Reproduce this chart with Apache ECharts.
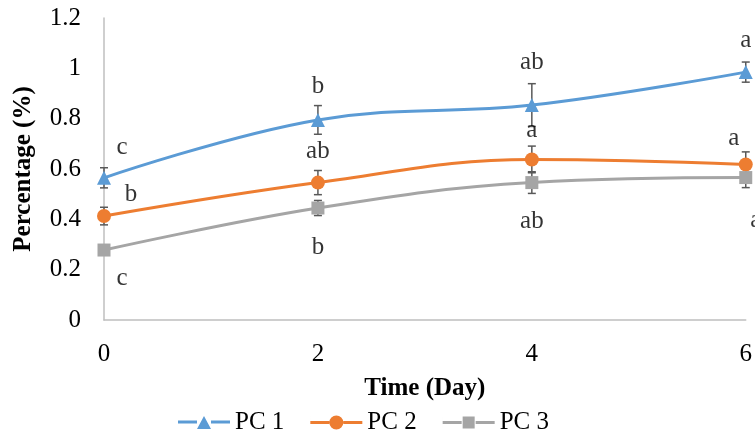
<!DOCTYPE html>
<html><head><meta charset="utf-8">
<script src="https://cdn.jsdelivr.net/npm/echarts@6/dist/echarts.min.js"></script>
<style>html,body{margin:0;padding:0;background:#fff}#c{width:755px;height:436px}</style>
</head><body><div id="c"></div>
<script>
const days = [0, 2, 4, 6];
const yTicks = [0, 0.2, 0.4, 0.6, 0.8, 1, 1.2];
const seriesNames = ['PC 1', 'PC 2', 'PC 3'];
const pc1 = [0.565, 0.795, 0.854, 0.985];
const pc2 = [0.413, 0.546, 0.638, 0.618];
const pc3 = [0.278, 0.445, 0.546, 0.566];
const pc1Err = [0.04, 0.057, 0.085, 0.04];
const pc2Err = [0.035, 0.048, 0.053, 0.05];
const pc3Err = [0.015, 0.03, 0.043, 0.04];
const pc1Letters = ['c', 'b', 'ab', 'a'];
const pc2Letters = ['b', 'ab', 'a', 'a'];
const pc3Letters = ['c', 'b', 'ab', 'a'];

// layout: label offsets (pixels) relative to each point
const pc1Off = [[18, -30], [0, -33], [0, -43], [0, -32]];
const pc2Off = [[27, -22], [0, -31], [0, -29], [-12, -26]];
const pc3Off = [[18, 28], [0, 39], [0, 39], [10, 43]];

const colors = ['#5B9BD5', '#ED7D31', '#A5A5A5'];
const symbols = ['triangle', 'circle', 'rect'];
const symSizes = [14, 14, 13];
const vals = [pc1, pc2, pc3];
const errs = [pc1Err, pc2Err, pc3Err];
const letters = [pc1Letters, pc2Letters, pc3Letters];
const offs = [pc1Off, pc2Off, pc3Off];
const FONT = '"Liberation Serif", "Times New Roman", serif';

// legend icons: thick line with marker (52 x 14 box)
const bars = 'M0 5.5 H19 V8.5 H0 Z M33 5.5 H52 V8.5 H33 Z ';
const legendIcons = [
  'path://' + bars + 'M19 14 L26 1 L33 14 Z',
  'path://' + bars + 'M19 7 A7 7 0 1 1 33 7 A7 7 0 1 1 19 7 Z M0 0 H0.01 V14 H0 Z',
  'path://' + bars + 'M20 1 H32 V13 H20 Z M0 0 H0.01 V14 H0 Z'
];

const series = [];
vals.forEach((v, i) => {
  series.push({
    name: seriesNames[i], type: 'line', smooth: 0.4,
    data: days.map((d, j) => [d, v[j]]),
    symbol: symbols[i], symbolSize: symSizes[i], showAllSymbol: true,
    lineStyle: { color: colors[i], width: 3 },
    itemStyle: { color: colors[i] }, z: 3
  });
});
vals.forEach((v, i) => {
  series.push({
    type: 'custom', z: 2, silent: true,
    data: days.map((d, j) => [d, v[j] - errs[i][j], v[j] + errs[i][j]]),
    renderItem: function (params, api) {
      const lo = api.coord([api.value(0), api.value(1)]);
      const hi = api.coord([api.value(0), api.value(2)]);
      const w = 4;
      const st = { stroke: '#595959', lineWidth: 1.5 };
      return { type: 'group', children: [
        { type: 'line', shape: { x1: lo[0], y1: lo[1], x2: hi[0], y2: hi[1] }, style: st },
        { type: 'line', shape: { x1: lo[0] - w, y1: lo[1], x2: lo[0] + w, y2: lo[1] }, style: st },
        { type: 'line', shape: { x1: hi[0] - w, y1: hi[1], x2: hi[0] + w, y2: hi[1] }, style: st }
      ]};
    }
  });
});
vals.forEach((v, i) => {
  series.push({
    type: 'scatter', symbolSize: 0, silent: true, z: 5,
    data: days.map((d, j) => ({
      value: [d, v[j]],
      label: { show: true, position: 'inside', offset: offs[i][j], formatter: letters[i][j],
               fontFamily: FONT, fontSize: 25, color: '#000' }
    }))
  });
});

const chart = echarts.init(document.getElementById('c'));
chart.setOption({
  animation: false,
  grid: { left: 104, right: 8, top: 18, bottom: 116, containLabel: false },
  legend: {
    data: seriesNames.map((n, i) => ({ name: n, icon: legendIcons[i], itemStyle: { color: colors[i] } })),
    left: 178, top: 410, padding: 0, itemWidth: 52, itemHeight: 14, itemGap: 26,
    textStyle: { fontFamily: FONT, fontSize: 25, color: '#000' }
  },
  xAxis: {
    type: 'value', min: 0, max: 6, interval: 2,
    name: 'Time (Day)', nameLocation: 'middle', nameGap: 56,
    nameTextStyle: { fontFamily: FONT, fontSize: 25, fontWeight: 'bold', color: '#000' },
    axisLine: { show: true, lineStyle: { color: '#BFBFBF', width: 1.5 } },
    axisTick: { show: false }, splitLine: { show: false },
    axisLabel: { fontFamily: FONT, fontSize: 25, color: '#000', margin: 22,
                 formatter: v => days.includes(v) ? String(v) : '' }
  },
  yAxis: {
    type: 'value', min: 0, max: 1.2, interval: 0.2,
    name: 'Percentage (%)', nameLocation: 'middle', nameGap: 68, nameRotate: 90,
    nameTextStyle: { fontFamily: FONT, fontSize: 25, fontWeight: 'bold', color: '#000' },
    axisLine: { show: true, lineStyle: { color: '#BFBFBF', width: 1.5 } },
    axisTick: { show: false }, splitLine: { show: false },
    axisLabel: { fontFamily: FONT, fontSize: 25, color: '#000', margin: 23,
                 formatter: v => { const t = yTicks.find(x => Math.abs(x - v) < 1e-9); return t === undefined ? '' : String(t); } }
  },
  series: series
});
</script></body></html>
